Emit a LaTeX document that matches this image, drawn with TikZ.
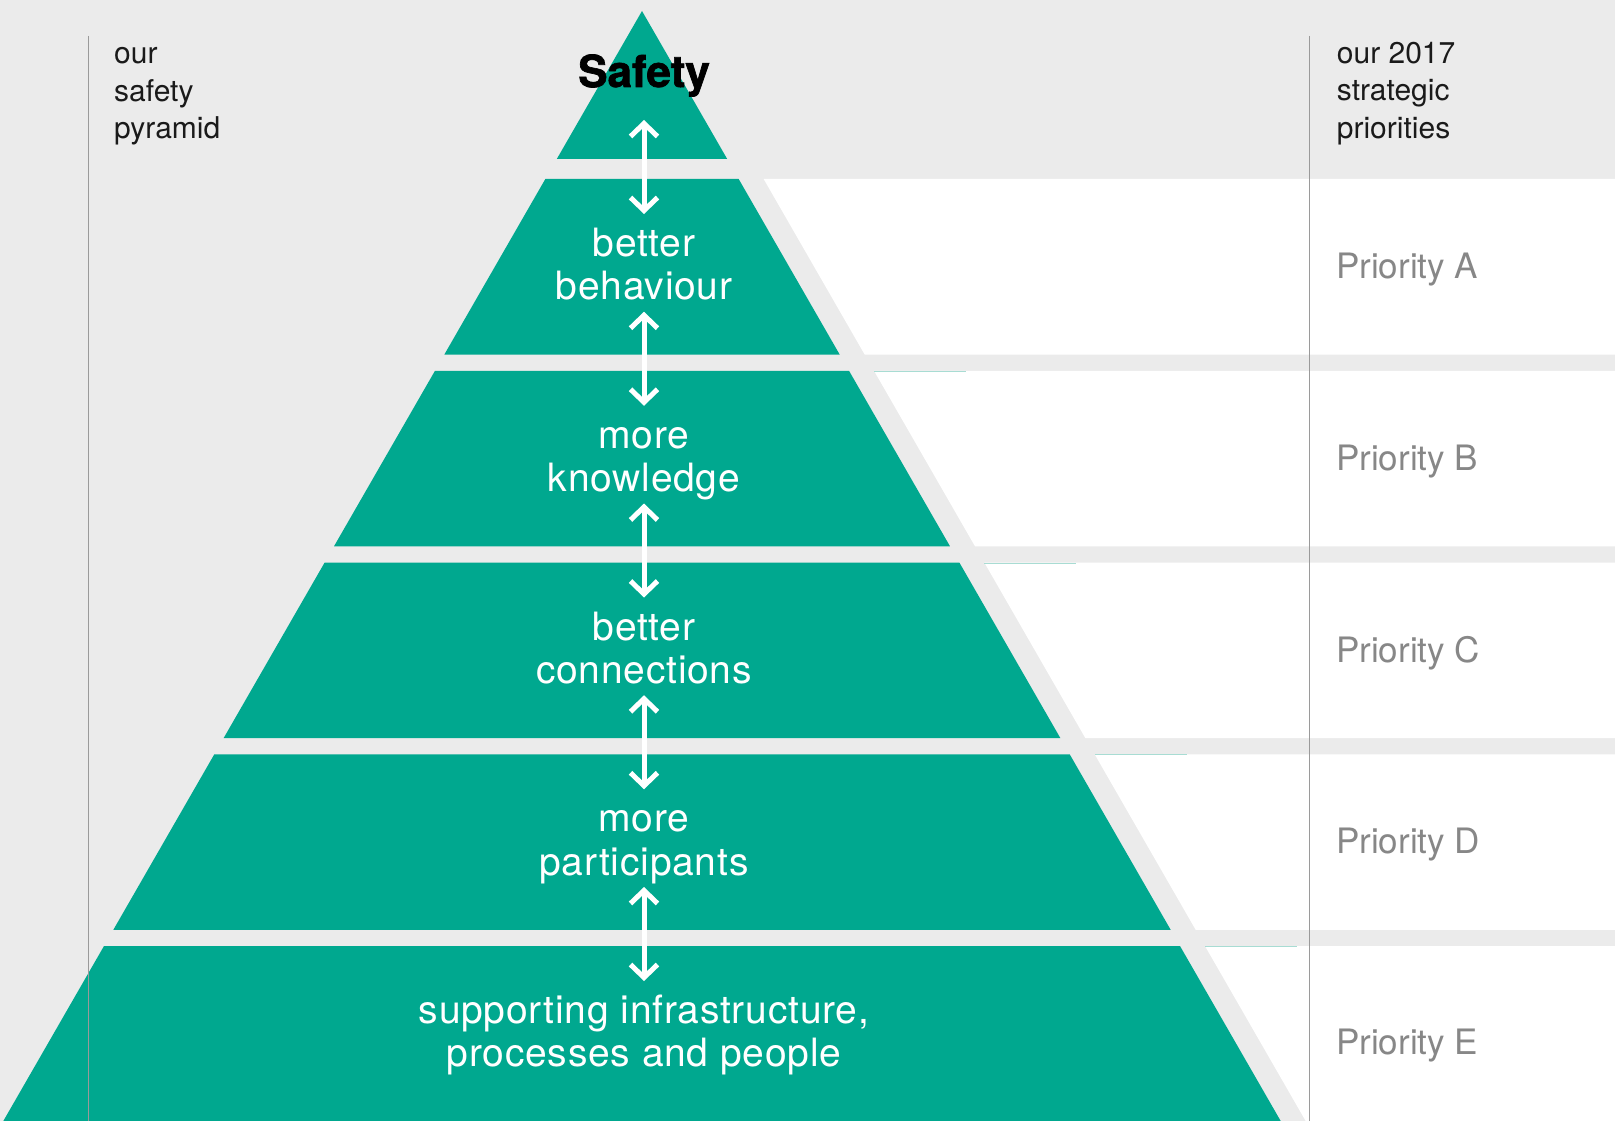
\documentclass[tikz,border=0pt]{standalone}
\usepackage{fontspec}
\setmainfont{TeX Gyre Heros}
\newfontfamily\tierfont[LetterSpace=2]{TeX Gyre Heros}
\newfontfamily\heavyfont[BoldFeatures={FakeBold=1.6}]{TeX Gyre Heros}
\usetikzlibrary{arrows.meta}
\definecolor{pyr}{HTML}{00A88F}
\definecolor{bg}{HTML}{EBEBEB}
\definecolor{rulegray}{HTML}{9A9A9A}
\definecolor{headink}{HTML}{1A1A1A}
\definecolor{prioink}{HTML}{878787}
\definecolor{seam}{HTML}{A8DCD3}

\begin{document}
\begin{tikzpicture}[x=1pt,y=-1pt,
  band/.style={fill=pyr},
  rowfill/.style={fill=white},
  seamline/.style={draw=seam,line width=1.2pt},
  sidebar/.style={draw=rulegray,line width=1.5pt},
  tierlabel/.style={text=white,align=center,inner sep=0pt,
    font=\tierfont\fontsize{39pt}{43.3pt}\selectfont},
  heading/.style={text=headink,align=left,inner sep=0pt,anchor=west,
    font=\fontsize{30pt}{37.5pt}\selectfont},
  prioritytext/.style={text=prioink,inner sep=0pt,anchor=base west,
    font=\fontsize{35pt}{40pt}\selectfont},
  safetytitle/.style={text=black,inner sep=0pt,anchor=base,
    font=\heavyfont\bfseries\fontsize{44pt}{50pt}\selectfont},
  updown/.style={draw=white,line width=5pt,
    {Straight Barb[length=13pt,width=27pt,sharp]}-{Straight Barb[length=13pt,width=27pt,sharp]}}
]
% canvas
\fill[bg] (0,0) rectangle (1615,1121);
\useasboundingbox (0,0) rectangle (1615,1121);

% apex of the pyramid
\fill[band] (642,11) -- (727.2,159) -- (556.8,159) -- cycle;

% five tiers, each with a white row to its right
\foreach \i in {0,...,4}{
  \pgfmathsetmacro\ytop{179+191.75*\i}
  \pgfmathsetmacro\ybot{\ytop+175.5}
  \pgfmathsetmacro\wtop{(\ytop-11)*0.5754}
  \pgfmathsetmacro\wbot{(\ybot-11)*0.5754}
  \fill[band] ({642-\wtop},\ytop) -- ({642+\wtop},\ytop) -- ({642+\wbot},\ybot) -- ({642-\wbot},\ybot) -- cycle;
  \fill[rowfill] ({667+\wtop},\ytop) -- (1615,\ytop) -- (1615,\ybot) -- ({667+\wbot},\ybot) -- cycle;
  \ifnum\i>0
    \draw[seamline] ({667+\wtop},{\ytop+0.6}) -- ({759+\wtop},{\ytop+0.6});
  \fi
}

% column rules
\coordinate (lrtop) at (88.5,36);
\coordinate (lrbot) at (88.5,1121);
\coordinate (rrtop) at (1309.7,36);
\coordinate (rrbot) at (1309.7,1121);
\draw[sidebar] (lrtop) -- (lrbot);
\draw[sidebar] (rrtop) -- (rrbot);

% two-way arrows between tiers
\foreach \i in {0,...,4}{
  \coordinate (up\i) at (644,{120+191.75*\i});
  \coordinate (dn\i) at (644,{214+191.75*\i});
  \draw[updown] (up\i) -- (dn\i);
}

% headings
\node[heading] (lefthead) at (114,101.5) {\smash{our}\\\smash{safety}\\\smash{pyramid}};
\node[heading] (righthead) at (1336.7,100.7) {\smash{our 2017}\\\smash{strategic}\\\smash{priorities}};

% apex title
\node[safetytitle] (safety) at (644,87) {Safety};

% tier labels
\node[tierlabel] (tier1) at (644,278.15) {\smash{better}\\\smash{behaviour}};
\node[tierlabel] (tier2) at (644,469.9) {\smash{more}\\\smash{knowledge}};
\node[tierlabel] (tier3) at (644,661.65) {\smash{better}\\\smash{connections}};
\node[tierlabel] (tier4) at (644,853.4) {\smash{more}\\\smash{participants}};
\node[tierlabel] (tier5) at (644,1045.15) {\smash{supporting infrastructure,}\\\smash{processes and people}};

% priorities
\node[prioritytext] (pa) at (1336,278.5) {Priority A};
\node[prioritytext] (pb) at (1336,470.25) {Priority B};
\node[prioritytext] (pc) at (1336,662) {Priority C};
\node[prioritytext] (pd) at (1336,853.75) {Priority D};
\node[prioritytext] (pe) at (1336,1054) {Priority E};
\end{tikzpicture}
\end{document}
